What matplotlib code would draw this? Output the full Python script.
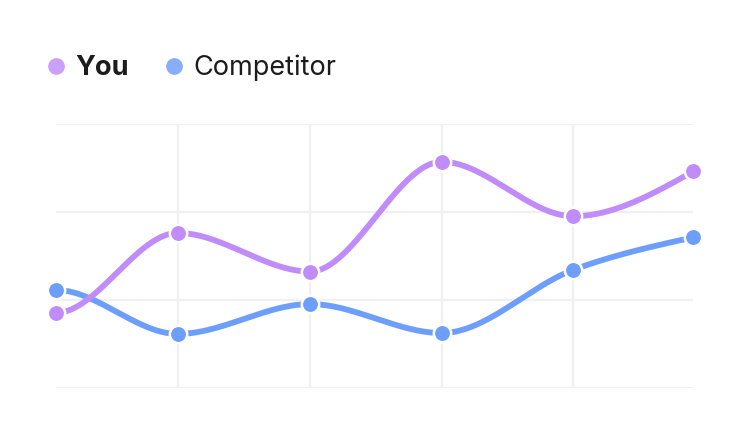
""" Two smooth line series (You vs Competitor) with a top-left legend """

import numpy as np
import matplotlib.pyplot as plt
from matplotlib.lines import Line2D

# Data (x positions are not evenly spaced)
periods = [0.0, 0.924, 1.929, 2.929, 3.929, 4.84]
you = [8.5, 17.6, 13.2, 25.7, 19.5, 24.6]
competitor = [11.1, 6.1, 9.5, 6.2, 13.4, 17.1]
series_names = ['You', 'Competitor']
colors = ['#c08cf9', '#6e9efb']
legend_colors = ['#cba0fb', '#88adfb']


def smooth_curve(x, y, n=60):
    """monotone cubic through the points, for drawing only"""
    x = np.asarray(x, float)
    y = np.asarray(y, float)
    h = np.diff(x)
    d = np.diff(y) / h
    m = np.zeros_like(y)
    for i in range(1, len(y) - 1):
        if d[i - 1] * d[i] > 0:
            p = (d[i - 1] * h[i] + d[i] * h[i - 1]) / (h[i - 1] + h[i])
            m[i] = np.sign(d[i]) * min(abs(d[i - 1]), abs(d[i]), 0.5 * abs(p)) * 2
    # start flat, end with the one-sided estimate
    m[0] = 0.0
    m[-1] = (3 * d[-1] - m[-2]) / 2
    xs, ys = [], []
    for i in range(len(x) - 1):
        t = np.linspace(0, 1, n)
        h00 = 2 * t**3 - 3 * t**2 + 1
        h10 = t**3 - 2 * t**2 + t
        h01 = -2 * t**3 + 3 * t**2
        h11 = t**3 - t**2
        xs.append(x[i] + t * h[i])
        ys.append(h00 * y[i] + h10 * h[i] * m[i] + h01 * y[i + 1] + h11 * h[i] * m[i + 1])
    return np.concatenate(xs), np.concatenate(ys)


plt.rcParams['font.family'] = ['Inter', 'DejaVu Sans']

fig = plt.figure(figsize=(7.5, 4.36), dpi=100)
ax = fig.add_axes([0.0747, 0.1112, 0.8497, 0.6044])

for values, color, z in [(competitor, colors[1], 2), (you, colors[0], 3)]:
    cx, cy = smooth_curve(periods, values)
    ax.plot(cx, cy, color=color, lw=4.2, solid_capstyle='round', clip_on=False, zorder=z)
    ax.plot(periods, values, 'o', color=color, ms=12.5, mec='white', mew=1.8,
            clip_on=False, zorder=z + 0.5)

ax.set_xlim(periods[0], periods[-1])
ax.set_ylim(0, 30)
ax.set_yticks([0, 10, 20, 30])
ax.set_xticks(periods[1:-1])
ax.grid(True, color='#f0f0f0', lw=1.6)
ax.set_axisbelow(True)
ax.tick_params(left=False, bottom=False, labelleft=False, labelbottom=False)
for s in ax.spines.values():
    s.set_visible(False)

# legend, drawn by hand at top left
legend_y = 1 - 65.7 / 436
for cx_px, tx_px, name, col, weight in [(56, 75, series_names[0], legend_colors[0], 'bold'),
                                        (174, 193, series_names[1], legend_colors[1], 'normal')]:
    fig.add_artist(Line2D([cx_px / 750], [legend_y], marker='o', ms=11, color=col,
                          transform=fig.transFigure))
    fig.text(tx_px / 750, 1 - 74.7 / 436, name, fontsize=19.5, fontweight=weight,
             color='#1c1c1c', va='baseline')

fig.savefig('out.png', dpi=100)
